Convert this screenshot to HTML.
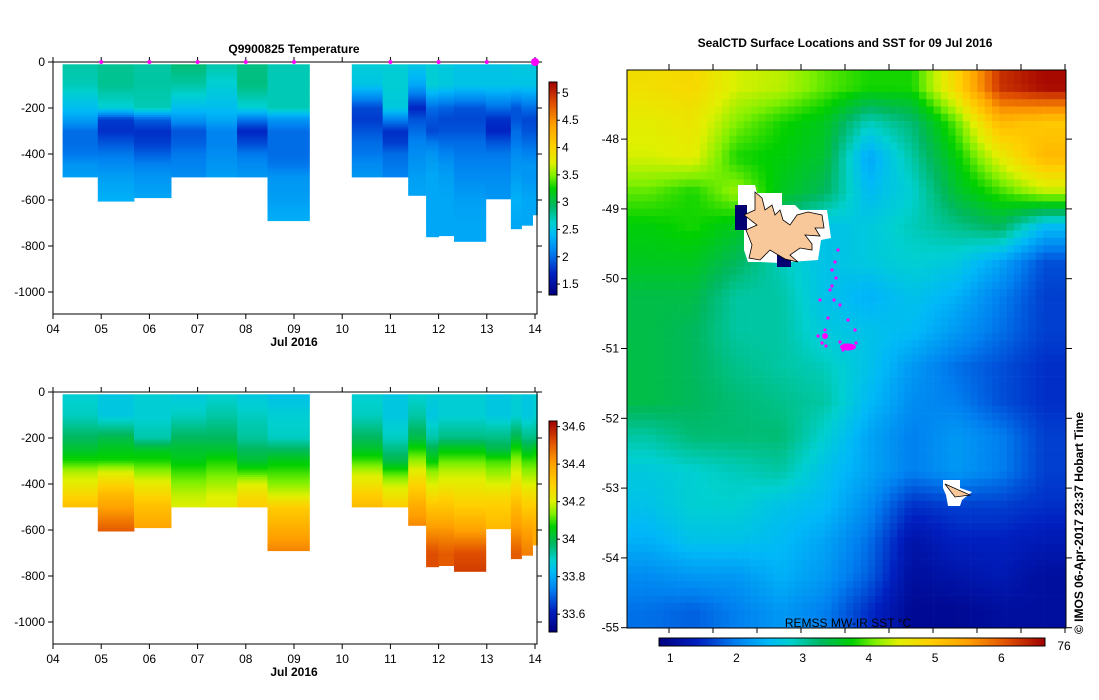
<!DOCTYPE html>
<html><head><meta charset="utf-8">
<style>
html,body{margin:0;padding:0;background:#fff;}
body{width:1099px;height:700px;overflow:hidden;position:relative;font-family:"Liberation Sans",sans-serif;}
svg{position:absolute;left:0;top:0;}
text{font-family:"Liberation Sans",sans-serif;font-size:12px;fill:#000;}
</style></head>
<body>
<svg id="s" width="1099" height="700">
<g id="g1"></g>
<g id="g2"></g>
<g id="g3"></g>
</svg>
<script>
// ---------- data ----------
const depthLevels=[0,100,200,250,300,350,400,450,500,600,700,800];
const profileStart=[4.2,4.93,5.68,6.45,7.18,7.82,8.45,10.2,10.84,11.37,11.74,12.0,12.32,12.98,13.5,13.72,13.95];
const profileEnd=[4.93,5.68,6.45,7.18,7.82,8.45,9.32,10.84,11.37,11.74,12.0,12.32,12.98,13.5,13.72,13.95,14.05];
const profileMaxDepth=[500,605,590,500,500,500,690,500,500,580,760,755,780,595,725,710,665];
const tempProfiles=[
[2.75,2.7,2.45,2.25,2.0,2.0,2.05,2.2,2.25,2.25,2.25,2.25],
[2.8,2.8,2.6,1.8,1.75,1.9,2.05,2.15,2.25,2.35,2.35,2.35],
[2.75,2.75,2.7,1.95,1.75,1.8,1.95,2.1,2.2,2.3,2.3,2.3],
[2.9,2.75,2.45,2.2,1.9,1.95,2.05,2.1,2.15,2.15,2.15,2.15],
[2.75,2.6,2.45,2.3,2.1,2.1,2.15,2.2,2.25,2.25,2.25,2.25],
[2.85,2.85,2.6,2.05,1.7,1.85,2.05,2.15,2.2,2.2,2.2,2.2],
[2.7,2.7,2.7,2.2,2.0,2.0,2.0,2.05,2.2,2.25,2.35,2.35],
[2.6,2.5,1.85,1.8,1.9,2.0,2.05,2.15,2.2,2.2,2.2,2.2],
[2.6,2.6,2.55,2.1,1.75,1.8,2.0,2.05,2.1,2.1,2.1,2.1],
[2.55,2.3,1.7,1.9,2.0,2.1,2.15,2.2,2.25,2.3,2.3,2.3],
[2.6,2.6,2.0,1.9,1.85,2.05,2.2,2.25,2.3,2.3,2.3,2.3],
[2.55,2.55,1.95,1.85,1.9,2.0,2.1,2.2,2.25,2.3,2.3,2.3],
[2.5,2.5,1.9,1.85,1.9,2.0,2.05,2.1,2.15,2.25,2.3,2.3],
[2.5,2.5,2.0,1.75,1.7,1.9,2.05,2.1,2.15,2.2,2.2,2.2],
[2.55,2.5,1.9,1.9,2.0,2.05,2.15,2.2,2.25,2.35,2.3,2.3],
[2.55,2.5,2.0,1.85,1.9,2.0,2.1,2.2,2.2,2.3,2.3,2.3],
[2.55,2.5,2.0,1.85,1.9,2.0,2.1,2.2,2.2,2.3,2.3,2.3]];
const salProfiles=[
[33.88,33.9,33.98,34.02,34.08,34.17,34.22,34.28,34.33,34.33,34.33,34.33],
[33.86,33.86,34.0,34.04,34.08,34.2,34.28,34.35,34.4,34.5,34.5,34.5],
[33.88,33.88,33.92,34.03,34.08,34.15,34.22,34.28,34.33,34.4,34.4,34.4],
[33.86,33.9,33.98,34.02,34.05,34.1,34.14,34.18,34.2,34.2,34.2,34.2],
[33.88,33.92,33.98,34.02,34.08,34.12,34.16,34.2,34.22,34.22,34.22,34.22],
[33.86,33.9,33.93,33.98,34.02,34.1,34.2,34.26,34.3,34.3,34.3,34.3],
[33.84,33.88,33.9,33.98,34.05,34.1,34.14,34.2,34.3,34.38,34.45,34.45],
[33.88,33.9,33.98,34.03,34.1,34.18,34.24,34.3,34.34,34.34,34.34,34.34],
[33.86,33.86,33.9,33.95,34.0,34.1,34.18,34.24,34.3,34.3,34.3,34.3],
[33.88,33.92,34.0,34.08,34.15,34.22,34.28,34.33,34.38,34.45,34.45,34.45],
[33.88,33.86,33.92,34.0,34.06,34.15,34.2,34.26,34.32,34.42,34.52,34.52],
[33.88,33.88,33.95,34.05,34.12,34.18,34.22,34.28,34.32,34.42,34.5,34.5],
[33.88,33.88,33.95,34.05,34.12,34.18,34.22,34.26,34.3,34.4,34.52,34.55],
[33.86,33.86,33.95,34.0,34.1,34.15,34.2,34.26,34.3,34.35,34.35,34.35],
[33.88,33.88,34.0,34.08,34.15,34.2,34.25,34.3,34.35,34.42,34.5,34.5],
[33.86,33.86,33.95,34.02,34.1,34.15,34.2,34.26,34.3,34.4,34.45,34.45],
[33.88,33.88,33.95,34.05,34.1,34.15,34.2,34.25,34.3,34.38,34.38,34.38]];
const surfaceDays=[5,6,7,8,9,11,12,13,14];
const dayTicks=["04","05","06","07","08","09","10","11","12","13","14"];
const depthTicks=[0,-200,-400,-600,-800,-1000];
const tempCbTicks=[1.5,2,2.5,3,3.5,4,4.5,5];
const salCbTicks=[33.6,33.8,34,34.2,34.4,34.6];
const sstGrid=[
[4.7,4.8,4.4,4.3,4.0,3.8,3.8,4.8,6.3,6.6],
[4.5,4.6,4.1,3.8,3.6,2.9,3.2,4.0,5.2,5.0],
[4.4,4.5,3.8,3.7,3.5,2.3,3.0,3.7,4.5,5.2],
[4.0,3.8,4.2,3.6,3.3,2.5,2.8,3.5,3.9,4.3],
[3.7,3.8,3.6,3.0,2.6,2.7,2.9,3.1,3.3,2.5],
[3.6,3.6,3.3,2.9,2.6,2.7,2.8,2.7,2.3,1.7],
[3.4,3.4,3.0,3.0,2.6,2.4,2.6,2.4,2.0,1.6],
[3.4,3.3,3.0,3.0,2.7,2.6,2.5,2.2,1.9,1.6],
[3.4,3.3,3.1,3.0,2.9,2.6,2.2,1.9,1.7,1.5],
[3.4,3.3,3.2,3.1,3.0,2.5,2.1,2.0,1.7,1.5],
[3.0,3.2,3.2,3.2,2.8,2.3,2.0,2.2,2.0,1.6],
[2.7,2.8,2.9,3.0,2.6,2.3,2.0,2.2,2.0,1.6],
[2.6,2.8,2.8,2.6,2.5,2.1,1.5,1.6,1.6,1.5],
[2.4,2.6,2.6,2.5,2.3,1.9,1.2,1.4,1.4,1.3],
[2.1,2.2,2.2,2.4,2.2,1.8,1.1,1.2,1.3,1.1],
[1.9,1.8,2.0,2.2,2.0,1.5,1.0,1.0,1.1,1.1]];
const latTicks=[-48,-49,-50,-51,-52,-53,-54,-55];
const sstCbTicks=[1,2,3,4,5,6];

// ---------- helpers ----------
const NS="http://www.w3.org/2000/svg";
function mk(parent,tag,attrs,txt){const e=document.createElementNS(NS,tag);for(const k in attrs)e.setAttribute(k,attrs[k]);if(txt!==undefined)e.textContent=txt;parent.appendChild(e);return e;}
const stops=[[0,[0,0,128]],[0.1,[0,32,192]],[0.2,[0,128,240]],[0.28,[0,184,248]],[0.34,[0,208,208]],[0.42,[0,184,96]],[0.5,[0,208,0]],[0.56,[128,240,0]],[0.62,[224,240,0]],[0.7,[255,208,0]],[0.8,[255,160,0]],[0.9,[224,80,0]],[1,[160,0,0]]];
function cmap(f){f=Math.max(0,Math.min(1,f));for(let i=1;i<stops.length;i++){if(f<=stops[i][0]){const a=stops[i-1],b=stops[i];const t=(f-a[0])/(b[0]-a[0]);const c=a[1].map((v,j)=>Math.round(v+(b[1][j]-v)*t));return `rgb(${c[0]},${c[1]},${c[2]})`;}}return 'rgb(160,0,0)';}
function interpProfile(vals,d){for(let i=1;i<depthLevels.length;i++){if(d<=depthLevels[i]){const t=(d-depthLevels[i-1])/(depthLevels[i]-depthLevels[i-1]);return vals[i-1]+(vals[i]-vals[i-1])*t;}}return vals[vals.length-1];}

function section(g,y0,profiles,vmin,vmax,cbTop,cbBot,cbTicks,cbFmt,title,markers){
  const xL=53,xR=537,yB=y0+252;
  const xs=d=>xL+(d-4)*(xR-2-xL)/10;
  const ys=z=>y0+z*46/200;
  for(let c=0;c<profiles.length;c++){
    const x1=xs(profileStart[c]),x2=xs(profileEnd[c]);
    for(let z=10;z<profileMaxDepth[c];z+=10){
      const v=interpProfile(profiles[c],z+5);
      const r=mk(g,'rect',{x:x1.toFixed(1),y:ys(z).toFixed(1),width:(x2-x1+0.4).toFixed(1),height:(ys(Math.min(z+10,profileMaxDepth[c]))-ys(z)+0.4).toFixed(1),fill:cmap((v-vmin)/(vmax-vmin))});
      
      
    }
  }
  const fr=mk(g,'rect',{x:xL,y:y0,width:xR-xL,height:yB-y0,fill:'none',stroke:'#000','stroke-width':1});
  
  depthTicks.forEach(t=>{const y=ys(-t);
    mk(g,'line',{x1:xL-5,x2:xL,y1:y,y2:y,stroke:'#000'});
    mk(g,'line',{x1:xR,x2:xR+5,y1:y,y2:y,stroke:'#000'});
    const tx=mk(g,'text',{x:xL-8,y:y+4,'text-anchor':'end'},String(t));
    });
  dayTicks.forEach((t,i)=>{const x=xs(4+i);
    mk(g,'line',{x1:x,x2:x,y1:yB,y2:yB+5,stroke:'#000'});
    mk(g,'line',{x1:x,x2:x,y1:y0-5,y2:y0,stroke:'#000'});
    const tx=mk(g,'text',{x:x,y:yB+19,'text-anchor':'middle'},t);
    });
  const xl=mk(g,'text',{x:294,y:yB+32,'text-anchor':'middle','font-weight':'bold'},'Jul 2016');
  
  if(title){const tt=mk(g,'text',{x:294,y:y0-9,'text-anchor':'middle','font-weight':'bold'},title);
    }
  if(markers){surfaceDays.forEach((d,i)=>{const m=mk(g,'circle',{cx:xs(d),cy:y0,r:i==surfaceDays.length-1?4:2,fill:'#ff00ff'});
    });}
  const cx=549,cw=8;
  for(let y=cbTop;y<cbBot;y++){const v=vmax-(y-cbTop+0.5)/(cbBot-cbTop)*(vmax-vmin);
    mk(g,'rect',{x:cx,y:y,width:cw,height:1.2,fill:cmap((v-vmin)/(vmax-vmin))});}
  const cb=mk(g,'rect',{x:cx,y:cbTop,width:cw,height:cbBot-cbTop,fill:'none',stroke:'#000'});
  
  cbTicks.forEach(t=>{const y=cbBot-(t-vmin)/(vmax-vmin)*(cbBot-cbTop);
    mk(g,'line',{x1:cx+cw,x2:cx+cw+3,y1:y,y2:y,stroke:'#000'});
    const tx=mk(g,'text',{x:cx+cw+5,y:y+4},cbFmt(t));
    });
}
section(document.getElementById('g1'),62,tempProfiles,1.3,5.2,82,295,tempCbTicks,t=>String(t),'Q9900825  Temperature',true);
section(document.getElementById('g2'),392,salProfiles,33.505,34.63,421,632,salCbTicks,t=>String(t),null,false);

// ---------- map ----------
(function(){
  const g=document.getElementById('g3');
  const mL=627,mR=1066,mT=70,mB=628,smin=0.83,smax=6.66;
  const rows=sstGrid.length,cols=sstGrid[0].length;
  const cw=(mR-mL)/cols,ch=(mB-mT)/rows;
  const step=7.3;
  for(let y=mT;y<mB;y+=step){for(let x=mL;x<mR;x+=step){
    let fx=(x+step/2-mL)/cw-0.5,fy=(y+step/2-mT)/ch-0.5;
    fx=Math.max(0,Math.min(cols-1.001,fx));fy=Math.max(0,Math.min(rows-1.001,fy));
    const i=Math.floor(fy),j=Math.floor(fx),ty=fy-i,tx=fx-j;
    const v=sstGrid[i][j]*(1-tx)*(1-ty)+sstGrid[i][j+1]*tx*(1-ty)+sstGrid[i+1][j]*(1-tx)*ty+sstGrid[i+1][j+1]*tx*ty;
    const r=mk(g,'rect',{x:x.toFixed(1),y:y.toFixed(1),width:Math.min(step+0.3,mR-x).toFixed(1),height:Math.min(step+0.3,mB-y).toFixed(1),fill:cmap((v-smin)/(smax-smin))});
    
  }}
  mk(g,'polygon',{points:'738,185 755,185 757,193 782,193 782,205 795,205 800,210 827,210 831,238 821,240 818,260 790,262 780,263 760,262 748,262 744,250 744,205 738,205',fill:'#fff'});
  mk(g,'rect',{x:735,y:205,width:12,height:25,fill:'#000070'});
  mk(g,'rect',{x:777,y:255,width:14,height:12,fill:'#000070'});
  const k=mk(g,'polygon',{points:'755,192 762,198 765,210 772,205 775,215 780,210 783,220 790,225 797,215 808,212 822,215 824,228 815,228 820,236 805,235 812,244 812,250 800,248 790,255 798,262 785,259 770,250 760,260 749,258 752,245 746,230 757,225 744,215 755,210',fill:'#f9c89a',stroke:'#000','stroke-width':0.8});
  
  mk(g,'polygon',{points:'943,480 960,480 960,488 972,492 962,500 960,506 948,506 946,495 943,488',fill:'#fff'});
  const h=mk(g,'polygon',{points:'945,484 970,495 955,497',fill:'#f9c89a',stroke:'#000','stroke-width':0.8});
  
  const pts=[[838,250],[835,262],[832,270],[836,278],[830,290],[834,300],[840,305],[828,318],[825,330],[818,336],[822,343],[826,346],[840,342],[845,345],[848,348],[852,346],[843,350],[856,343],[832,286],[848,320],[820,300],[855,330]];
  pts.forEach(p=>{const c=mk(g,'circle',{cx:p[0],cy:p[1],r:1.6,fill:'#ff00ff'});
    });
  mk(g,'ellipse',{cx:848,cy:347,rx:8,ry:3.5,fill:'#ff00ff'});
  mk(g,'circle',{cx:825,cy:336,r:3,fill:'#ff00ff'});
  const fr=mk(g,'rect',{x:mL,y:mT,width:mR-mL,height:mB-mT,fill:'none',stroke:'#000'});
  
  latTicks.forEach(t=>{const y=mT+(-47.01-t)*69.8;
    mk(g,'line',{x1:mL-6,x2:mL,y1:y,y2:y,stroke:'#000'});
    mk(g,'line',{x1:mR,x2:mR+6,y1:y,y2:y,stroke:'#000'});
    const tx=mk(g,'text',{x:mL-8,y:y+4,'text-anchor':'end'},String(t));
    });
  for(let i=0;i<10;i++){const x=669+i*44;
    mk(g,'line',{x1:x,x2:x,y1:mT-6,y2:mT,stroke:'#000'});
    mk(g,'line',{x1:x,x2:x,y1:mB,y2:mB+5,stroke:'#000'});}
  const t=mk(g,'text',{x:845,y:47,'text-anchor':'middle','font-weight':'bold'},'SealCTD Surface Locations and SST for 09 Jul 2016');
  
  const src=mk(g,'text',{x:848,y:627,'text-anchor':'middle'},'REMSS MW-IR SST °C');
  
  const bL=659,bR=1045,bT=638,bH=8;
  for(let x=bL;x<bR;x++){mk(g,'rect',{x:x,y:bT,width:1.2,height:bH,fill:cmap((x-bL+0.5)/(bR-bL))});}
  const cb=mk(g,'rect',{x:bL,y:bT,width:bR-bL,height:bH,fill:'none',stroke:'#000'});
  
  sstCbTicks.forEach(v=>{const x=bL+(v-smin)/(smax-smin)*(bR-bL);
    const tx=mk(g,'text',{x:x,y:662,'text-anchor':'middle'},String(v));
    });
  const t76=mk(g,'text',{x:1064,y:650,'text-anchor':'middle'},'76');
  
  const cr=mk(g,'text',{x:0,y:0,transform:'translate(1083,634) rotate(-90)','font-size':'16.5','font-weight':'bold'},'© IMOS 06-Apr-2017 23:37 Hobart Time');
  
})();
</script>
</body></html>
